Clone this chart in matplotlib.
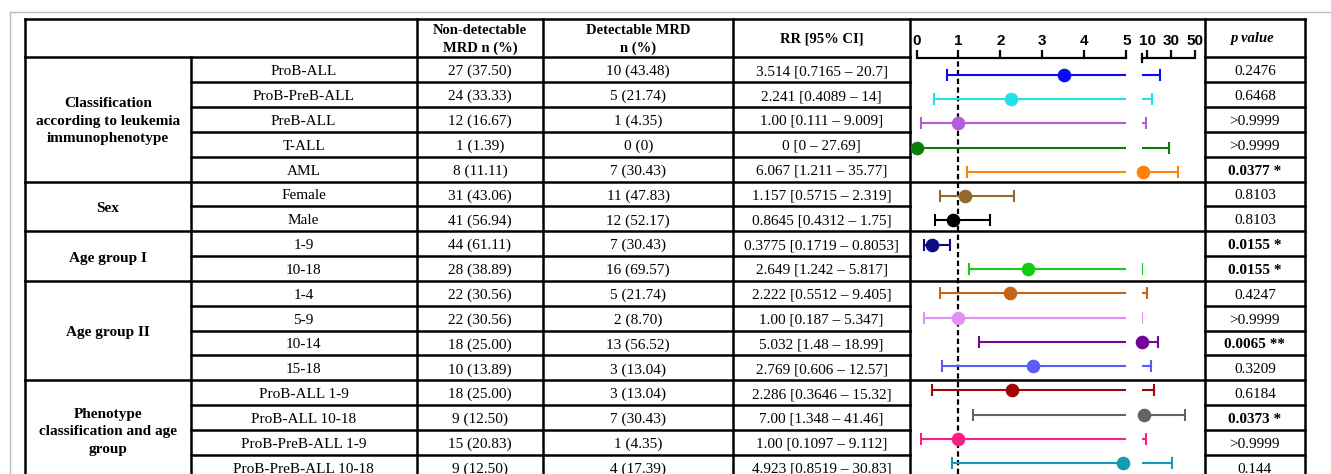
import matplotlib
matplotlib.use("Agg")
import matplotlib.pyplot as plt

# ---------------------------------------------------------------- data
groups = ["Classification\naccording to leukemia\nimmunophenotype", "Sex",
          "Age group I", "Age group II",
          "Phenotype\nclassification and age\ngroup"]
group_sizes = [5, 2, 2, 4, 4]

subgroups = ["ProB-ALL", "ProB-PreB-ALL", "PreB-ALL", "T-ALL", "AML",
             "Female", "Male",
             "1-9", "10-18",
             "1-4", "5-9", "10-14", "15-18",
             "ProB-ALL 1-9", "ProB-ALL 10-18", "ProB-PreB-ALL 1-9",
             "ProB-PreB-ALL 10-18"]

non_detectable = ["27 (37.50)", "24 (33.33)", "12 (16.67)", "1 (1.39)", "8 (11.11)",
                  "31 (43.06)", "41 (56.94)",
                  "44 (61.11)", "28 (38.89)",
                  "22 (30.56)", "22 (30.56)", "18 (25.00)", "10 (13.89)",
                  "18 (25.00)", "9 (12.50)", "15 (20.83)", "9 (12.50)"]

detectable = ["10 (43.48)", "5 (21.74)", "1 (4.35)", "0 (0)", "7 (30.43)",
              "11 (47.83)", "12 (52.17)",
              "7 (30.43)", "16 (69.57)",
              "5 (21.74)", "2 (8.70)", "13 (56.52)", "3 (13.04)",
              "3 (13.04)", "7 (30.43)", "1 (4.35)", "4 (17.39)"]

rr_str = ["3.514", "2.241", "1.00", "0", "6.067",
          "1.157", "0.8645",
          "0.3775", "2.649",
          "2.222", "1.00", "5.032", "2.769",
          "2.286", "7.00", "1.00", "4.923"]
ci_low_str = ["0.7165", "0.4089", "0.111", "0", "1.211",
              "0.5715", "0.4312",
              "0.1719", "1.242",
              "0.5512", "0.187", "1.48", "0.606",
              "0.3646", "1.348", "0.1097", "0.8519"]
ci_high_str = ["20.7", "14", "9.009", "27.69", "35.77",
               "2.319", "1.75",
               "0.8053", "5.817",
               "9.405", "5.347", "18.99", "12.57",
               "15.32", "41.46", "9.112", "30.83"]

p_values = ["0.2476", "0.6468", ">0.9999", ">0.9999", "0.0377 *",
            "0.8103", "0.8103",
            "0.0155 *", "0.0155 *",
            "0.4247", ">0.9999", "0.0065 **", "0.3209",
            "0.6184", "0.0373 *", ">0.9999", "0.144"]

colors = ["#0a0af5", "#22e2e8", "#b45ddc", "#0a800a", "#ff8205",
          "#94692d", "#000000",
          "#0c0c80", "#14cc14",
          "#c2651a", "#e292f2", "#74059a", "#5b5bf8",
          "#a20505", "#636363", "#fb1e84", "#1699b4"]

rr = [float(s) for s in rr_str]
ci_low = [float(s) for s in ci_low_str]
ci_high = [float(s) for s in ci_high_str]

seg1_ticks = [0, 1, 2, 3, 4, 5]
seg2_ticks = [10, 30, 50]

# ---------------------------------------------------------------- layout (pixels)
W, H = 1331, 474
col_x = [25, 190.7, 416.7, 543.3, 733.3, 910, 1205, 1305]
y_top, y_head = 19, 57.3
row_h = 24.84
n = len(subgroups)
row_edges = [y_head + i * row_h for i in range(n + 1)]

serif = "Liberation Serif"
sans = "Liberation Sans"
fs = 11
lw_tab = 1.8

fig = plt.figure(figsize=(W / 100, H / 100), dpi=100)
ax = fig.add_axes([0, 0, 1, 1])
ax.set_xlim(0, W)
ax.set_ylim(H, 0)
ax.axis("off")


def frac_rect(x0, y0, x1, y1):
    return [x0 / W, 1 - y1 / H, (x1 - x0) / W, (y1 - y0) / H]


# light frame around the page
ax.plot([9.5, 9.5], [11.5, H], color="#bdbdbd", lw=1.0)
ax.plot([9.5, W], [11.5, 11.5], color="#bdbdbd", lw=1.0)

# ---------------------------------------------------------------- table grid
kw = dict(color="black", lw=lw_tab, solid_capstyle="projecting")
ax.plot([col_x[0], col_x[-1]], [y_top, y_top], **kw)
ax.plot([col_x[0], col_x[5]], [y_head, y_head], **kw)
ax.plot([col_x[6], col_x[7]], [y_head, y_head], **kw)

group_bounds = []
acc = 0
for s in group_sizes:
    acc += s
    group_bounds.append(acc)

for i in range(1, n):
    y = row_edges[i]
    if i in group_bounds:
        ax.plot([col_x[0], col_x[-1]], [y, y], **kw)
    else:
        ax.plot([col_x[1], col_x[5]], [y, y], **kw)
        ax.plot([col_x[6], col_x[7]], [y, y], **kw)

for j, x in enumerate(col_x):
    y0 = y_head if j == 1 else y_top
    ax.plot([x, x], [y0, H + 5], **kw)

# ---------------------------------------------------------------- header
hdr = dict(ha="center", va="center", fontsize=10.5, fontweight="bold",
           family=serif, linespacing=1.45)
ax.text((col_x[2] + col_x[3]) / 2, 39.5, "Non-detectable\nMRD n (%)", **hdr)
ax.text((col_x[3] + col_x[4]) / 2, 39.5, "Detectable MRD\nn (%)", **hdr)
ax.text((col_x[4] + col_x[5]) / 2, 39.0, "RR [95% CI]", **hdr)
ax.text((col_x[6] + col_x[7]) / 2 - 3, 38.5, "p value", style="italic", **hdr)

# ---------------------------------------------------------------- body text
start = 0
for g, s in zip(groups, group_sizes):
    yc = (row_edges[start] + row_edges[start + s]) / 2
    ax.text((col_x[0] + col_x[1]) / 2, yc + 2, g, ha="center", va="center",
            fontsize=fs, fontweight="bold", family=serif, linespacing=1.45)
    start += s

for i in range(n):
    yc = (row_edges[i] + row_edges[i + 1]) / 2 + 2
    body = dict(ha="center", va="center", fontsize=fs, family=serif)
    ax.text((col_x[1] + col_x[2]) / 2, yc, subgroups[i], **body)
    ax.text((col_x[2] + col_x[3]) / 2, yc, non_detectable[i], **body)
    ax.text((col_x[3] + col_x[4]) / 2, yc, detectable[i], **body)
    ax.text((col_x[4] + col_x[5]) / 2, yc,
            f"{rr_str[i]} [{ci_low_str[i]} \u2013 {ci_high_str[i]}]", **body)
    bold = "bold" if "*" in p_values[i] else "normal"
    ax.text((col_x[6] + col_x[7]) / 2, yc, p_values[i], fontweight=bold, **body)

# ---------------------------------------------------------------- forest plot (broken axis)
axis_y = 57.7
first_row_y, forest_step = 74.7, 24.29
y_lo = (H - first_row_y) / forest_step
y_hi = -(first_row_y - axis_y) / forest_step

ax1 = fig.add_axes(frac_rect(916.5, axis_y, 1126.3, H))
ax2 = fig.add_axes(frac_rect(1141.5, axis_y, 1195.4, H))
ax1.set_xlim(0, 5)
ax2.set_xlim(5, 50)
for a, ticks in ((ax1, seg1_ticks), (ax2, seg2_ticks)):
    a.set_ylim(y_lo, y_hi)
    a.patch.set_visible(False)
    for side in ("left", "right", "bottom"):
        a.spines[side].set_visible(False)
    a.spines["top"].set_linewidth(1.6)
    a.xaxis.set_ticks_position("top")
    a.set_xticks(ticks)
    a.set_yticks([])
    a.tick_params(axis="x", direction="out", length=5.8, width=1.6, pad=1.5,
                  labelsize=11)
    for lab in a.get_xticklabels():
        lab.set_fontweight("bold")
        lab.set_family(sans)

# break mark at the start of the second segment
ax2.axvline(5, ymin=1 - 4 / 416.3, ymax=1 + 3.5 / 416.3, color="black",
            lw=1.6, clip_on=False)

# reference line at RR = 1
ax1.axvline(1, color="black", lw=1.6, ls=(0, (2.4, 1.5)), zorder=1)

for k in range(n):
    c = colors[k]
    for a in (ax1, ax2):
        a.errorbar(rr[k], k, xerr=[[rr[k] - ci_low[k]], [ci_high[k] - rr[k]]],
                   fmt="none", ecolor=c, elinewidth=1.5, capsize=4.2,
                   capthick=1.5, zorder=2)
    target = ax1 if rr[k] <= 5 else ax2
    target.plot(rr[k], k, "o", ms=8.8, color=c, clip_on=False, zorder=3)

fig.savefig("out.png", dpi=100)
